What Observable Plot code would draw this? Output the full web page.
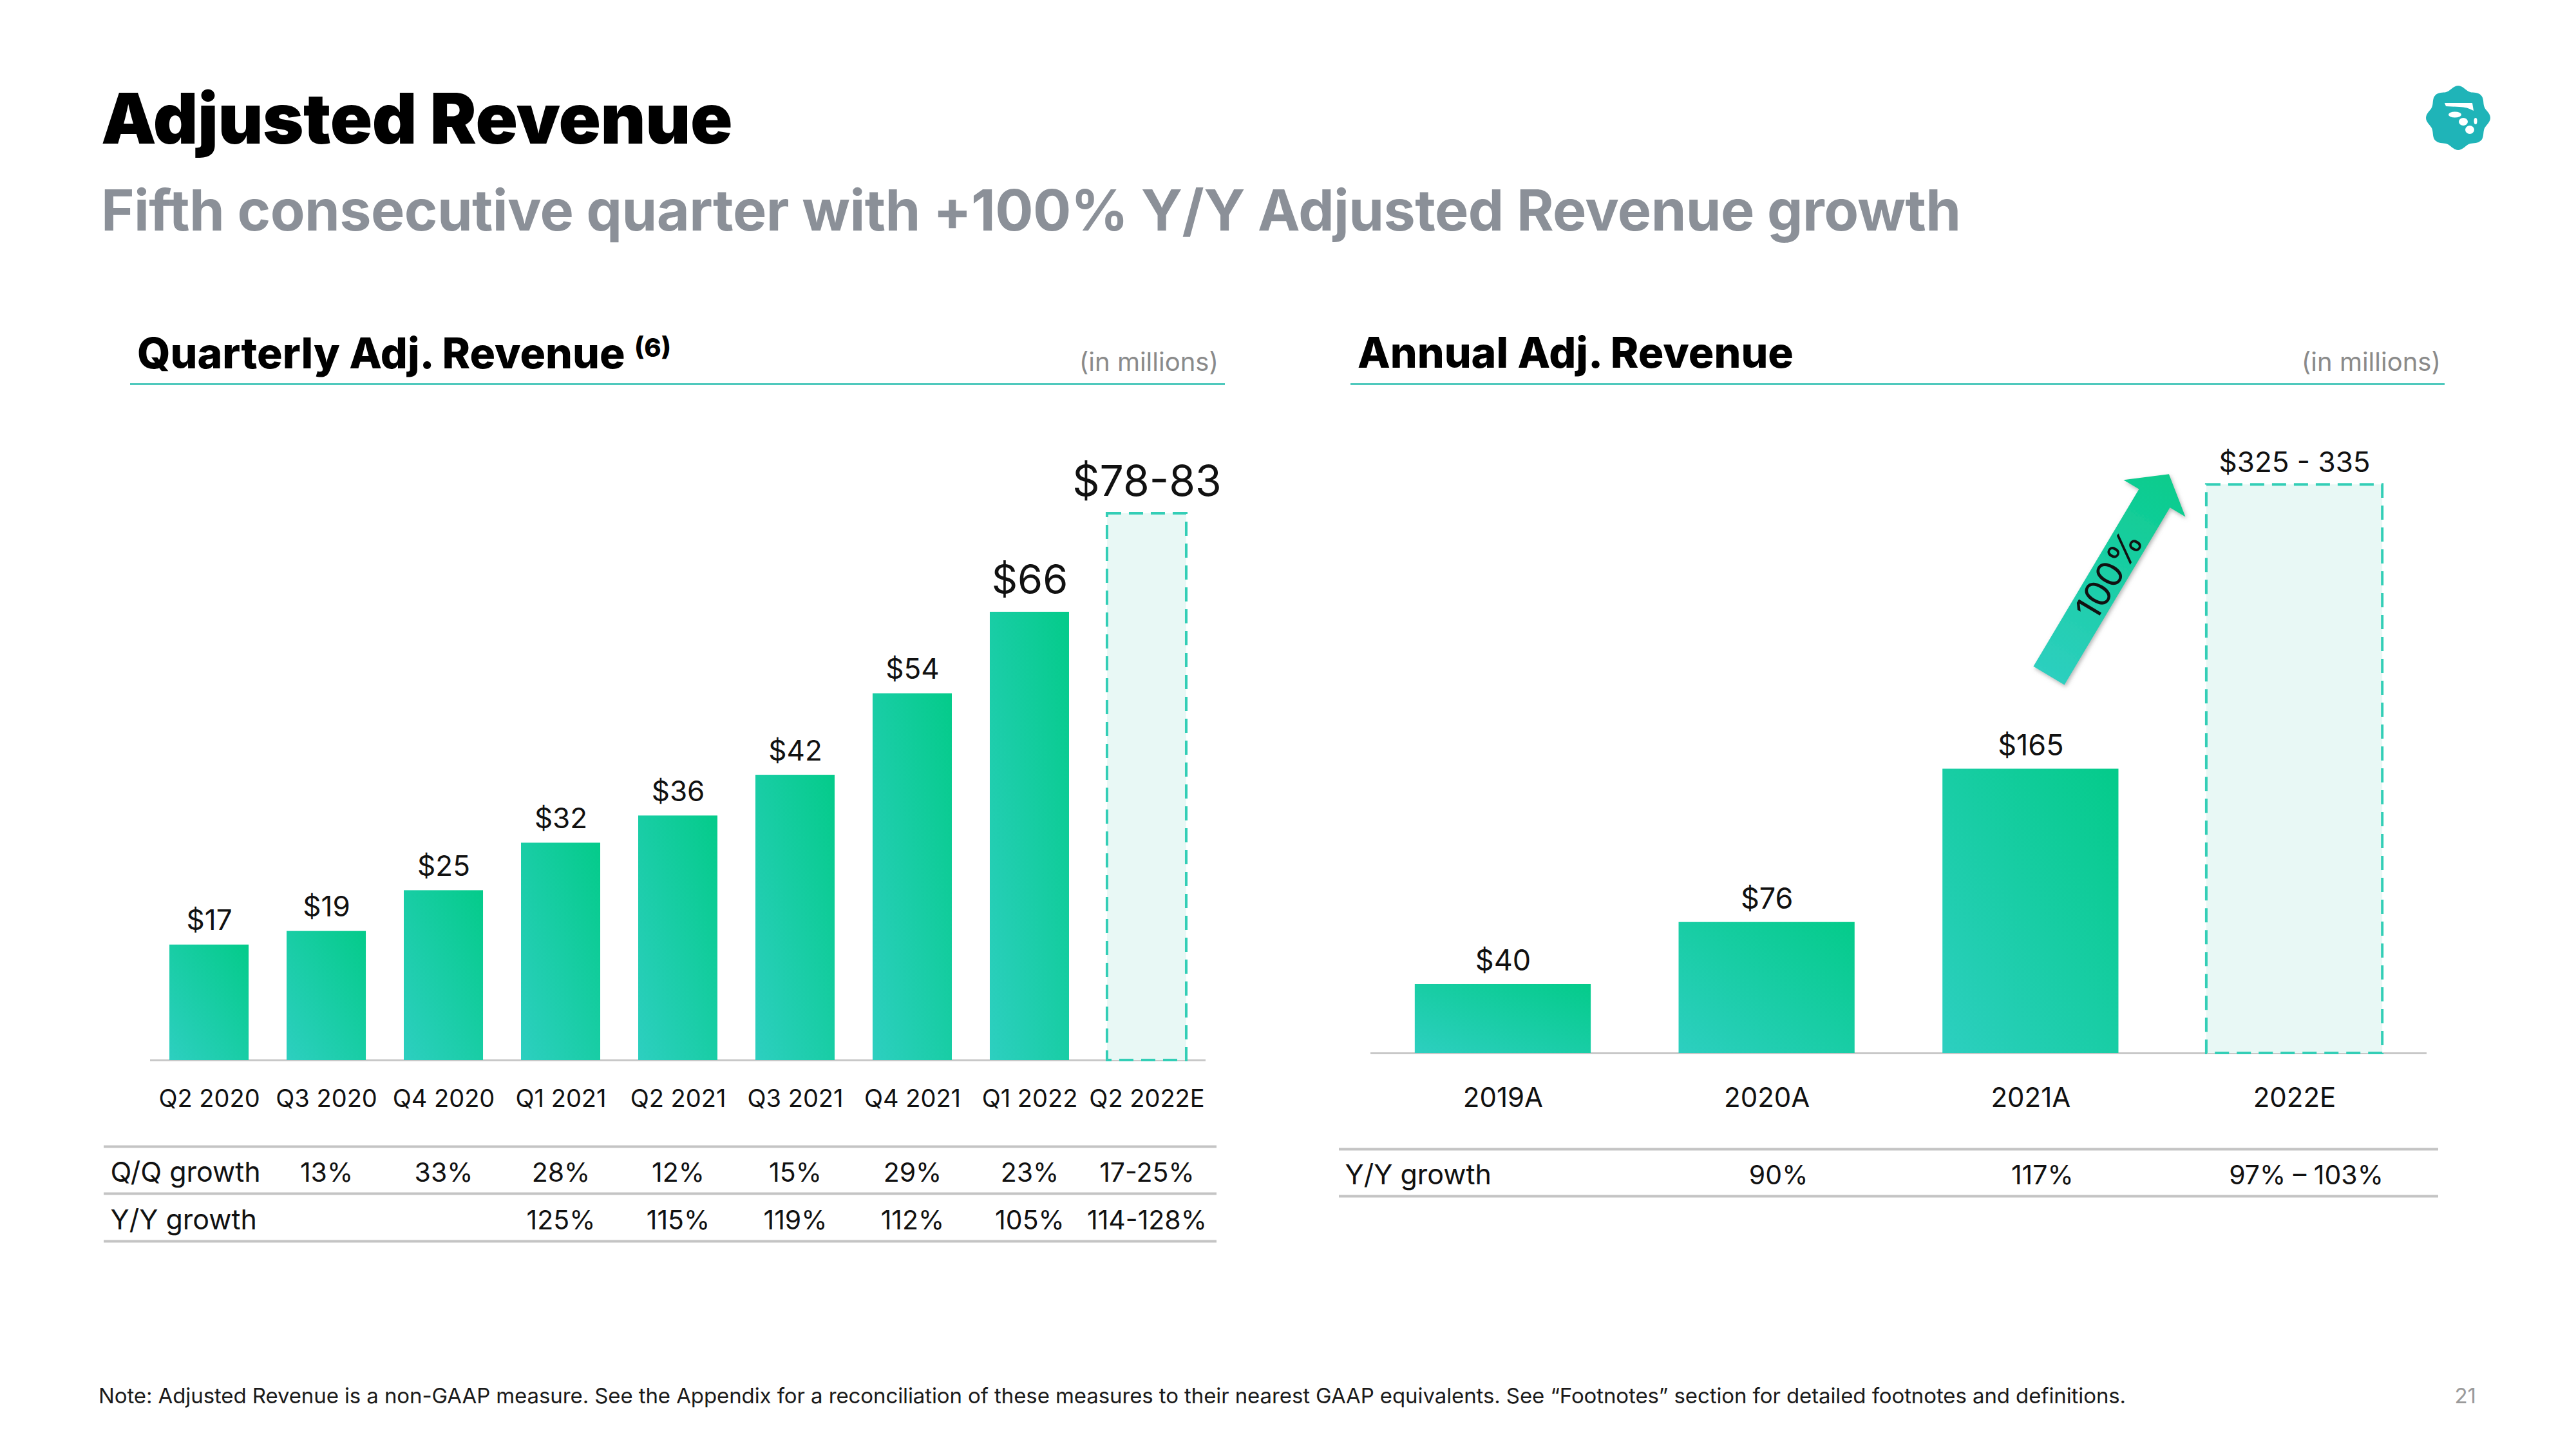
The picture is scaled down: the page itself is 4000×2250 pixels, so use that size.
<!DOCTYPE html>
<html><head><meta charset="utf-8">
<script src="https://cdn.jsdelivr.net/npm/d3@7"></script>
<script src="https://cdn.jsdelivr.net/npm/@observablehq/plot@0.6"></script>
<style>
html,body{margin:0;padding:0;background:#fff;}
body{width:4000px;height:2250px;position:relative;overflow:hidden;font-family:Inter,"Noto Sans",sans-serif;}
.abs{position:absolute;white-space:nowrap;line-height:1;}
.hline{position:absolute;height:3px;background:#4fc9bd;}
</style></head><body>
<div class="abs" style="left:157px;top:130px;font-size:108px;font-weight:900;color:#000;letter-spacing:-0.5px">Adjusted Revenue</div>
<div class="abs" style="left:157px;top:282px;font-size:88px;font-weight:700;color:#8b9098;letter-spacing:-0.6px">Fifth consecutive quarter with +100% Y/Y Adjusted Revenue growth</div>
<svg id="logo" style="position:absolute;left:3767px;top:133px" width="100" height="100"></svg>

<div class="abs" style="left:213px;top:515px;font-size:66px;font-weight:800;color:#000">Quarterly Adj. Revenue <span style="position:relative;top:-18px;font-size:40px;font-weight:800">(6)</span></div>
<div class="abs" style="right:2108px;top:542px;font-size:40px;color:#8a8a8a">(in millions)</div>
<div class="hline" style="left:202px;top:595px;width:1700px"></div>

<div class="abs" style="left:2108px;top:514px;font-size:66px;font-weight:800;color:#000">Annual Adj. Revenue</div>
<div class="abs" style="right:210px;top:542px;font-size:40px;color:#8a8a8a">(in millions)</div>
<div class="hline" style="left:2097px;top:595px;width:1699px"></div>

<div id="left" style="position:absolute;left:150px;top:700px"></div>
<div id="right" style="position:absolute;left:2080px;top:650px"></div>

<div class="abs" style="left:153px;top:2151px;font-size:33px;color:#1a1a1a;letter-spacing:-0.1px">Note: Adjusted Revenue is a non-GAAP measure. See the Appendix for a reconciliation of these measures to their nearest GAAP equivalents. See “Footnotes” section for detailed footnotes and definitions.</div>
<div class="abs" style="right:155px;top:2151px;font-size:33px;color:#9a9a9a">21</div>

<script>
// ---------- data ----------
const quarters = ["Q2 2020","Q3 2020","Q4 2020","Q1 2021","Q2 2021","Q3 2021","Q4 2021","Q1 2022","Q2 2022E"];
const quarterlyRevenue = [17, 19, 25, 32, 36, 42, 54, 66];
const quarterlyLabels = ["$17","$19","$25","$32","$36","$42","$54","$66"];
const quarterEstimate = [78, 83];
const quarterEstimateLabel = "$78-83";
const qoqGrowth = ["", "13%","33%","28%","12%","15%","29%","23%","17-25%"];
const yoyQuarterGrowth = ["","","","125%","115%","119%","112%","105%","114-128%"];

const years = ["2019A","2020A","2021A","2022E"];
const annualRevenue = [40, 76, 165];
const annualLabels = ["$40","$76","$165"];
const annualEstimate = [325, 335];
const annualEstimateLabel = "$325 - 335";
const yoyAnnualGrowth = ["","90%","117%","97% – 103%"];
const arrowLabel = "100%";
const arrowSpan = [219, 336]; // $M levels the growth arrow runs between

// ---------- styles ----------
const barFillQ = "url(#gradQ)", barFillA = "url(#gradA)";
const estFill = "#e8f8f5", estStroke = "#33ceb6";
const txt = "#111";

function addGrad(svg, id) {
  d3.select(svg).insert("defs", ":first-child").html(
    `<linearGradient id="${id}" x1="0" y1="1" x2="1" y2="0">
       <stop offset="0" stop-color="#2dcfc0"/><stop offset="1" stop-color="#04cb8a"/>
     </linearGradient>`);
}

// ---------- quarterly chart ----------
const qActual = quarterlyRevenue.map((v, i) => ({q: quarters[i], v, label: quarterlyLabels[i]}));
const qEst = [{q: quarters[quarters.length - 1], v: d3.mean(quarterEstimate), label: quarterEstimateLabel}];
const qTable = quarters.map((q, i) => ({q, qoq: qoqGrowth[i], yoy: yoyQuarterGrowth[i]}));
const lastActual = quarters[quarterlyRevenue.length - 1];

const left = Plot.plot({
  width: 1800, height: 1260,
  marginLeft: 83, marginRight: 78, marginTop: 0, marginBottom: 0,
  x: {domain: quarters, paddingInner: 0.324, paddingOuter: 0.165, round: false, axis: null},
  y: {domain: [0, 89.7], range: [946, 0], axis: null},
  style: {fontFamily: "Inter, sans-serif", fontSize: "40px", color: txt, background: "transparent", overflow: "visible"},
  marks: [
    Plot.ruleY([0], {stroke: "#c8c8c8", strokeWidth: 3}),
    Plot.barY(qActual, {x: "q", y: "v", fill: barFillQ}),
    Plot.barY(qEst, {x: "q", y: "v", fill: estFill, stroke: estStroke, strokeWidth: 4, strokeDasharray: "22,12"}),
    Plot.text(qActual.filter(d => d.q !== lastActual), {x: "q", y: "v", text: "label", dy: -23, lineAnchor: "bottom", fontSize: 44, fill: txt}),
    Plot.text(qActual.filter(d => d.q === lastActual), {x: "q", y: "v", text: "label", dy: -28, lineAnchor: "bottom", fontSize: 63, fill: txt}),
    Plot.text(qEst, {x: "q", y: "v", text: "label", dy: -28, lineAnchor: "bottom", fontSize: 66, fill: txt}),
    Plot.text(quarters, {x: d => d, y: () => 0, dy: 72, lineAnchor: "bottom", fontSize: 38, fill: txt}),
    ...[134, 207, 281].map(dy => Plot.ruleY([0], {dy, insetLeft: -72, insetRight: -17, stroke: "#c4c4c4", strokeWidth: 4})),
    Plot.text(["Q/Q growth"], {frameAnchor: "left", y: () => 0, dy: 188, dx: -62, textAnchor: "start", lineAnchor: "bottom", fontSize: 43, fill: txt}),
    Plot.text(["Y/Y growth"], {frameAnchor: "left", y: () => 0, dy: 262, dx: -62, textAnchor: "start", lineAnchor: "bottom", fontSize: 43, fill: txt}),
    Plot.text(qTable, {x: "q", y: () => 0, text: "qoq", dy: 188, lineAnchor: "bottom", fontSize: 41, fill: txt}),
    Plot.text(qTable, {x: "q", y: () => 0, text: "yoy", dy: 262, lineAnchor: "bottom", fontSize: 41, fill: txt})
  ]
});
addGrad(left, "gradQ");
document.getElementById("left").appendChild(left);

// ---------- annual chart ----------
const aActual = annualRevenue.map((v, i) => ({y: years[i], v, label: annualLabels[i]}));
const aEst = [{y: years[years.length - 1], v: d3.mean(annualEstimate), label: annualEstimateLabel}];
const aTable = years.map((y, i) => ({y, g: yoyAnnualGrowth[i]}));

const right = Plot.plot({
  width: 1800, height: 1260,
  marginLeft: 48, marginRight: 112, marginTop: 0, marginBottom: 0,
  x: {domain: years, paddingInner: 0.333, paddingOuter: 0.168, round: false, axis: null},
  y: {domain: [0, 368.2], range: [985, 0], axis: null},
  style: {fontFamily: "Inter, sans-serif", fontSize: "40px", color: txt, background: "transparent", overflow: "visible"},
  marks: [
    Plot.ruleY([0], {stroke: "#c8c8c8", strokeWidth: 3}),
    Plot.barY(aActual, {x: "y", y: "v", fill: barFillA}),
    Plot.barY(aEst, {x: "y", y: "v", fill: estFill, stroke: estStroke, strokeWidth: 4, strokeDasharray: "22,12"}),
    Plot.text(aActual, {x: "y", y: "v", text: "label", dy: -21, lineAnchor: "bottom", fontSize: 45, fill: txt}),
    Plot.text(aEst, {x: "y", y: "v", text: "label", dy: -20, lineAnchor: "bottom", fontSize: 44, fill: txt}),
    Plot.text(years, {x: d => d, y: () => 0, dy: 83, lineAnchor: "bottom", fontSize: 42, fill: txt}),
    ...[149, 222].map(dy => Plot.ruleY([0], {dy, insetLeft: -49, insetRight: -18, stroke: "#c4c4c4", strokeWidth: 4})),
    Plot.text(["Y/Y growth"], {frameAnchor: "left", y: () => 0, dy: 203, dx: -40, textAnchor: "start", lineAnchor: "bottom", fontSize: 43, fill: txt}),
    Plot.text(aTable, {x: "y", y: () => 0, text: "g", dy: 203, dx: 18, lineAnchor: "bottom", fontSize: 41, fill: txt})
  ]
});
addGrad(right, "gradA");
document.getElementById("right").appendChild(right);

// ---------- growth arrow annotation (placed with the chart's scales) ----------
(function () {
  const xs = right.scale("x"), ys = right.scale("y");
  const bw = xs.bandwidth || 0;
  const c = d => xs.apply(d) + bw / 2;
  const xa = c(years[2]), xb = c(years[3]);
  const p0 = [xa + (xb - xa) * 0.07, ys.apply(arrowSpan[0])];
  const p1 = [xa + (xb - xa) * 0.525, ys.apply(arrowSpan[1])];
  const dx = p1[0] - p0[0], dy = p1[1] - p0[1], L = Math.hypot(dx, dy);
  const u = [dx / L, dy / L], n = [-u[1], u[0]];
  const hw = 28, hh = 56, hl = 44;
  const pt = (base, along, perp) => [base[0] + u[0] * along + n[0] * perp, base[1] + u[1] * along + n[1] * perp];
  const pts = [pt(p0, 0, hw), pt(p1, -hl, hw), pt(p1, -hl, hh), p1, pt(p1, -hl, -hh), pt(p1, -hl, -hw), pt(p0, 0, -hw)];
  const svg = d3.select(right);
  const defs = svg.select("defs");
  defs.append("linearGradient").attr("id", "gradArrow").attr("gradientUnits", "userSpaceOnUse")
    .attr("x1", p0[0]).attr("y1", p0[1]).attr("x2", p1[0]).attr("y2", p1[1])
    .html('<stop offset="0" stop-color="#2dcfbf"/><stop offset="1" stop-color="#0acc8c"/>');
  defs.append("filter").attr("id", "arrowShadow").attr("x", "-20%").attr("y", "-20%").attr("width", "140%").attr("height", "140%")
    .html('<feDropShadow dx="2" dy="3" stdDeviation="3" flood-color="#777" flood-opacity="0.55"/>');
  const g = svg.append("g");
  g.append("polygon").attr("points", pts.map(p => p.join(",")).join(" "))
    .attr("fill", "url(#gradArrow)").attr("filter", "url(#arrowShadow)");
  const m = pt(p0, L * 0.5, 0);
  const ang = Math.atan2(dy, dx) * 180 / Math.PI;
  g.append("text").attr("transform", `translate(${m[0]},${m[1]}) rotate(${ang})`)
    .attr("text-anchor", "middle").attr("dy", "0.36em").attr("font-size", 56)
    .attr("font-family", "Inter, sans-serif").attr("fill", "#111").text(arrowLabel);
})();

// ---------- logo ----------
(function () {
  const s = d3.select("#logo");
  const line = d3.lineRadial().curve(d3.curveCardinalClosed);
  const N = 72;
  const ring = d3.range(N).map(i => { const a = i / N * 2 * Math.PI; return [a, 47 + 3 * Math.cos(8 * a)]; });
  s.append("path").attr("transform", "translate(50,50)").attr("d", line(ring)).attr("fill", "#1fb4b8");
  s.append("path").attr("d", "M29,27 L72,27 L74,39 Q64,33 52,33 L31,32 Z").attr("fill", "#fff");
  [[45,45,10,4.5],[58,56,7,6],[77,55,2.5,5],[68,68.5,7,6.5]].forEach(([cx,cy,rx,ry]) =>
    s.append("ellipse").attr("cx", cx).attr("cy", cy).attr("rx", rx).attr("ry", ry).attr("fill", "#fff"));
})();
</script>
</body></html>
